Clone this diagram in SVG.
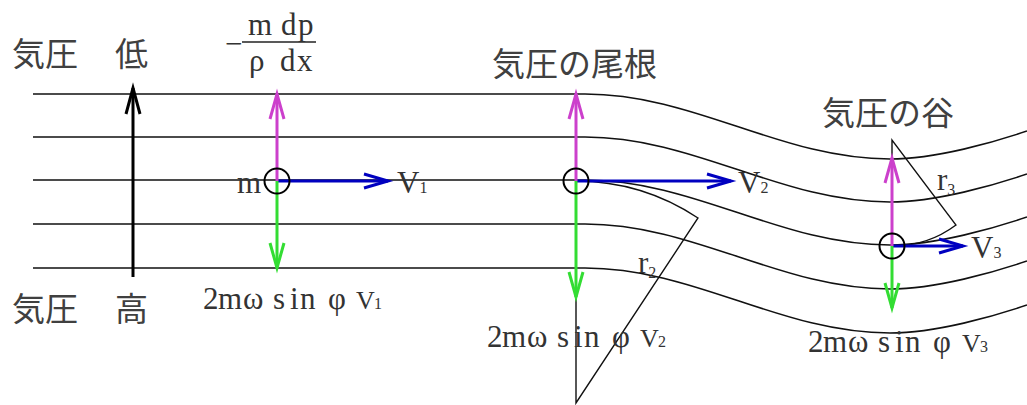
<svg xmlns="http://www.w3.org/2000/svg" width="1027" height="405" viewBox="0 0 1027 405">
<style>
.iso{fill:none;stroke:#111;stroke-width:1.6}
.sec{fill:none;stroke:#111;stroke-width:1.4}
.jp{font-family:"Noto Sans CJK JP","Noto Sans",sans-serif;font-size:33px;fill:#404040}
.mt{font-family:"Liberation Serif",serif;font-size:31px;fill:#333}
.sm{font-size:26px}
.sb{font-size:16px}
.blue{stroke:#0000c0;stroke-width:3;fill:none;marker-end:url(#hb)}
.mag{stroke:#cc40cc;stroke-width:3;fill:none;marker-end:url(#hm)}
.grn{stroke:#33dd33;stroke-width:3;fill:none;marker-end:url(#hg)}
.blk{stroke:#000;stroke-width:3;fill:none;marker-end:url(#hk)}
.pt{fill:none;stroke:#000;stroke-width:2}
</style>
<defs>
<marker id="hb" viewBox="-30 -10 32 20" refX="0" refY="0" markerWidth="32" markerHeight="20" orient="auto" markerUnits="userSpaceOnUse" overflow="visible"><path d="M-24,-7 L0,0 L-24,7" fill="none" stroke="#0000c0" stroke-width="3"/></marker>
<marker id="hm" viewBox="-30 -10 32 20" refX="0" refY="0" markerWidth="32" markerHeight="20" orient="auto" markerUnits="userSpaceOnUse" overflow="visible"><path d="M-25,-7 L0,0 L-25,7" fill="none" stroke="#cc40cc" stroke-width="3"/></marker>
<marker id="hg" viewBox="-30 -10 32 20" refX="0" refY="0" markerWidth="32" markerHeight="20" orient="auto" markerUnits="userSpaceOnUse" overflow="visible"><path d="M-25,-7 L0,0 L-25,7" fill="none" stroke="#33dd33" stroke-width="3"/></marker>
<marker id="hk" viewBox="-30 -10 32 20" refX="0" refY="0" markerWidth="32" markerHeight="20" orient="auto" markerUnits="userSpaceOnUse" overflow="visible"><path d="M-26,-7 L0,0 L-26,7" fill="none" stroke="#000" stroke-width="3"/></marker>
</defs>
<rect width="1027" height="405" fill="#fff"/>
<g id="connectors">
<path class="iso" d="M33,94 H585 C695,94 780,159 890,159 C936,159 995,142 1027,131"/>
<path class="iso" d="M33,137 H585 C695,137 780,202 890,202 C936,202 995,185 1027,174"/>
<path class="iso" d="M33,180 H585 C695,180 780,245 890,245 C936,245 995,228 1027,217"/>
<path class="iso" d="M33,224 H585 C695,224 780,289 890,289 C936,289 995,272 1027,261"/>
<path class="iso" d="M33,268 H585 C695,268 780,333 890,333 C936,333 995,316 1027,305"/>
<path class="sec" d="M576,181 L576,403 L698,218 A222,222 0 0,0 576,181"/>
<path class="sec" d="M892,246 L892,140 L956,225 A106,106 0 0,1 892,246"/>
<line class="blk" x1="133" y1="277" x2="133" y2="88"/>
<line class="blue" x1="277" y1="181" x2="388" y2="181"/>
<line class="blue" x1="576" y1="181" x2="731" y2="181"/>
<line class="blue" x1="892" y1="246" x2="963" y2="246"/>
<line class="mag" x1="277" y1="181" x2="277" y2="94"/>
<line class="mag" x1="576" y1="181" x2="576" y2="94"/>
<line class="mag" x1="892" y1="246" x2="892" y2="158"/>
<line class="grn" x1="277" y1="181" x2="277" y2="268"/>
<line class="grn" x1="576" y1="181" x2="576" y2="297"/>
<line class="grn" x1="892" y1="246" x2="892" y2="308"/>
</g>
<g id="particle1"><circle class="pt" cx="277" cy="181" r="12.5"/><text class="mt" x="237" y="193" font-size="25">m</text></g>
<g id="particle2"><circle class="pt" cx="576" cy="181" r="12.5"/></g>
<g id="particle3"><circle class="pt" cx="892" cy="246" r="12.5"/></g>
<g id="label-low"><text class="jp" x="12" y="66">気圧<tspan x="115">低</tspan></text></g>
<g id="label-high"><text class="jp" x="12" y="321">気圧<tspan x="115">高</tspan></text></g>
<g id="label-ridge"><text class="jp" x="492" y="76">気圧の尾根</text></g>
<g id="label-trough"><text class="jp" x="822" y="125">気圧の谷</text></g>
<g id="pressure-term">
<text class="mt" font-size="25" x="225" y="54">−</text>
<line x1="242" y1="42" x2="316" y2="42" stroke="#222" stroke-width="1.6"/>
<text class="mt" font-size="25" x="248 281 298" y="35">mdp</text>
<text class="mt" font-size="25" x="249 280 297" y="71">ρdx</text>
</g>
<g id="v-labels">
<text class="mt" font-size="28" x="397" y="193">V<tspan class="sb" y="193">1</tspan></text>
<text class="mt" font-size="28" x="738" y="193">V<tspan class="sb" y="193">2</tspan></text>
<text class="mt" font-size="25" x="971" y="258">V<tspan class="sb" y="258">3</tspan></text>
</g>
<g id="r-labels">
<text class="mt" font-size="24" x="638" y="273">r<tspan class="sb" y="278">2</tspan></text>
<text class="mt" font-size="26" x="937" y="190">r<tspan class="sb" y="195">3</tspan></text>
</g>
<g id="coriolis1"><text class="mt" x="203 218 243 273 290 300 328" y="309">2mωsinφ<tspan class="sm" x="356">V</tspan><tspan class="sb" x="374">1</tspan></text></g>
<g id="coriolis2"><text class="mt" x="487 502 527 557 574 584 612" y="347">2mωsinφ<tspan class="sm" x="640">V</tspan><tspan class="sb" x="658">2</tspan></text></g>
<g id="coriolis3"><text class="mt" x="808 823 848 878 895 905 933" y="352">2mωsinφ<tspan class="sm" x="962">V</tspan><tspan class="sb" x="980">3</tspan></text></g>
</svg>
